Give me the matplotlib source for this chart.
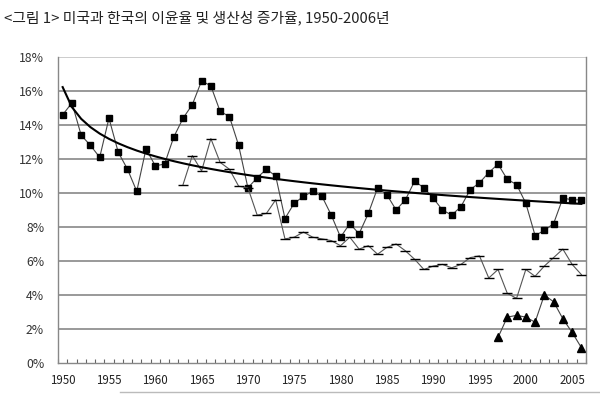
import numpy as np
import matplotlib
matplotlib.use('Agg')
import matplotlib.pyplot as plt
from matplotlib.ticker import FixedLocator, FuncFormatter

plt.rcParams['font.family'] = ['Noto Sans CJK KR', 'DejaVu Sans']

title = '<그림 1> 미국과 한국의 이윤율 및 생산성 증가율, 1950-2006년'

# US profit rate, 1950-2006 (%)
years_us = list(range(1950, 2007))
us_profit = [14.6, 15.3, 13.4, 12.8, 12.1, 14.4, 12.4, 11.4, 10.1, 12.6,
             11.6, 11.7, 13.3, 14.4, 15.2, 16.6, 16.3, 14.8, 14.5, 12.8,
             10.3, 10.9, 11.4, 11.0, 8.5, 9.4, 9.8, 10.1, 9.8, 8.7,
             7.4, 8.2, 7.6, 8.8, 10.3, 9.9, 9.0, 9.6, 10.7, 10.3,
             9.7, 9.0, 8.7, 9.2, 10.2, 10.6, 11.2, 11.7, 10.8, 10.5,
             9.4, 7.5, 7.8, 8.2, 9.7, 9.6, 9.6]

# productivity growth series, 1963-2006 (%)
years_prod = list(range(1963, 2007))
prod = [10.5, 12.2, 11.3, 13.2, 11.8, 11.4, 10.4, 10.3, 8.7, 8.8,
        9.6, 7.3, 7.4, 7.7, 7.4, 7.3, 7.2, 6.9, 7.4, 6.7,
        6.9, 6.4, 6.8, 7.0, 6.6, 6.1, 5.5, 5.7, 5.8, 5.6,
        5.8, 6.2, 6.3, 5.0, 5.5, 4.1, 3.8, 5.5, 5.1, 5.7,
        6.2, 6.7, 5.8, 5.2]

# Korea profit rate, 1997-2006 (%)
years_kr = list(range(1997, 2007))
kr_profit = [1.5, 2.7, 2.8, 2.7, 2.4, 4.0, 3.6, 2.6, 1.8, 0.9]

# logarithmic trend of the US series (as a spreadsheet trendline)
t = np.arange(1, len(years_us) + 1)
a, b = np.polyfit(np.log(t), us_profit, 1)
trend = a * np.log(t) + b

fig = plt.figure(figsize=(6, 3.94), dpi=100)
ax = fig.add_axes([0.0967, 0.0787, 0.88, 0.7766])

for y in range(2, 18, 2):
    ax.axhline(y, color='#999999', lw=1.4, zorder=1)
ax.axhline(18, color='#cccccc', lw=1.4, zorder=1)

ax.plot(years_us, us_profit, color='#444444', lw=0.8, marker='s', ms=4.8,
        mfc='black', mec='black', zorder=3)
ax.plot(years_prod, prod, color='#555555', lw=0.8, marker='_', ms=6.5,
        mec='black', mew=1.0, zorder=3)
ax.plot(years_kr, kr_profit, color='#444444', lw=0.8, marker='^', ms=5.2,
        mfc='black', mec='black', zorder=3)
ax.plot(years_us, trend, color='black', lw=1.5, zorder=4)

ax.set_xlim(1949.5, 2006.5)
ax.set_ylim(0, 18)

ax.set_yticks(range(0, 19, 2))
ax.yaxis.set_major_formatter(FuncFormatter(lambda v, p: f'{int(v)}%'))
ax.set_xticks(range(1950, 2006, 5))
ax.xaxis.set_minor_locator(FixedLocator(np.arange(1949.5, 2007, 1)))
ax.tick_params(axis='x', which='major', length=0, pad=8, labelsize=8.3,
               labelcolor='#222222')
ax.tick_params(axis='x', which='minor', direction='in', length=3,
               color='#666666', width=0.8)
ax.tick_params(axis='y', length=0, pad=10, labelsize=8.8, labelcolor='#333333')

for s in ['left', 'bottom', 'right']:
    ax.spines[s].set_color('#888888')
    ax.spines[s].set_linewidth(1.0)
ax.spines['top'].set_visible(False)

fig.text(0.006, 0.955, title, fontsize=10.7, color='#222222', va='center')

# page edge line under the chart
fig.add_artist(plt.Line2D([0.2, 1.0], [0.006, 0.006], color='#bbbbbb', lw=1.0))

fig.savefig('out.png', dpi=100)
